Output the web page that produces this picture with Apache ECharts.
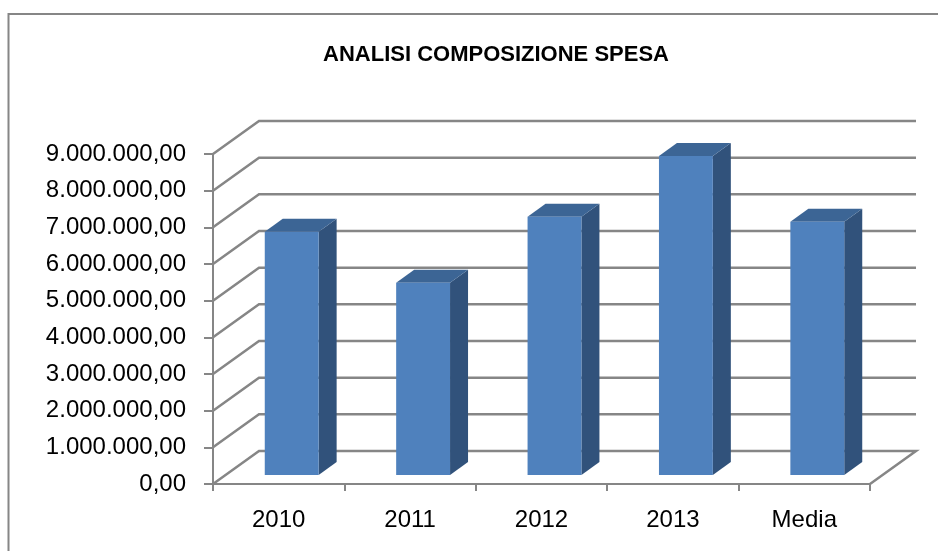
<!DOCTYPE html>
<html>
<head>
<meta charset="utf-8">
<script src="https://cdn.jsdelivr.net/npm/echarts@6/dist/echarts.min.js"></script>
<style>
html,body{margin:0;padding:0;background:#fff;}
#chart{width:938px;height:551px;}
</style>
</head>
<body>
<div id="chart"></div>
<script>
const titleText = 'ANALISI COMPOSIZIONE SPESA';
const categories = ['2010', '2011', '2012', '2013', 'Media'];
const values = [6635000, 5245000, 7044000, 8700000, 6906000];
const yTicks = [0, 1000000, 2000000, 3000000, 4000000, 5000000, 6000000, 7000000, 8000000, 9000000];

const GRAY = '#868686';
const FONT = '"Liberation Sans", Arial, sans-serif';
const WALL_DX = 46, WALL_DY = -33;
const BAR_OFF_DX = 13, BAR_OFF_DY = -9;
const BAR_DX = 18, BAR_DY = -13;
const BAR_RATIO = 0.41;

function fmtIt(v) {
  const s = Math.round(v).toString().replace(/\B(?=(\d{3})+(?!\d))/g, '.');
  return s + ',00';
}

const chart = echarts.init(document.getElementById('chart'), null, {renderer: 'canvas'});
chart.setOption({
  animation: false,
  backgroundColor: '#fff',
  graphic: [
    {type: 'rect', shape: {x: 8.5, y: 14, width: 960, height: 560},
     style: {fill: 'none', stroke: GRAY, lineWidth: 2}, z: 0},
    {type: 'text', style: {x: 496, y: 55, text: titleText, textAlign: 'center', textVerticalAlign: 'middle',
      font: 'bold 22px ' + FONT, fill: '#000'}, z: 10}
  ],
  grid: {left: 213, right: 68, top: 154, bottom: 67, containLabel: false},
  xAxis: {
    type: 'category', data: categories, boundaryGap: true,
    axisLine: {show: true, lineStyle: {color: GRAY, width: 2}},
    axisTick: {show: true, length: 7, lineStyle: {color: GRAY, width: 2}},
    axisLabel: {color: '#000', fontSize: 24, fontFamily: FONT, margin: 24},
    splitLine: {show: false}
  },
  yAxis: {
    type: 'value', min: 0, max: 9000000, interval: 1000000,
    axisLine: {show: true, lineStyle: {color: GRAY, width: 2}},
    axisTick: {show: true, length: 9, lineStyle: {color: GRAY, width: 2}},
    axisLabel: {color: '#000', fontSize: 24, fontFamily: FONT, margin: 27, padding: [4, 0, 0, 0], formatter: fmtIt},
    splitLine: {show: false}
  },
  series: [
    {
      type: 'custom', name: 'walls', z: 1, clip: false, silent: true,
      data: yTicks.map(v => [0, v]),
      encode: {x: 0, y: 1},
      renderItem: function (params, api) {
        const v = api.value(1);
        const y = api.coord([0, v])[1];
        const cs = params.coordSys;
        const x0 = cs.x, x1 = cs.x + cs.width;
        const pts = [[x0, y], [x0 + WALL_DX, y + WALL_DY], [x1 + WALL_DX, y + WALL_DY]];
        if (v === 0) pts.push([x1, y]);
        return {type: 'polyline', shape: {points: pts},
          style: {stroke: GRAY, lineWidth: 2.5, fill: null}};
      }
    },
    {
      type: 'custom', name: 'Spesa', z: 2, clip: false,
      data: values.map((v, i) => [i, v]),
      encode: {x: 0, y: 1},
      renderItem: function (params, api) {
        const idx = api.value(0), v = api.value(1);
        const base = api.coord([idx, 0]);
        const top = api.coord([idx, v]);
        const bw = api.size([1, 0])[0] * BAR_RATIO;
        const x = base[0] - bw / 2 + BAR_OFF_DX;
        const yb = base[1] + BAR_OFF_DY;
        const yt = top[1] + BAR_OFF_DY;
        return {type: 'group', children: [
          {type: 'polygon', shape: {points: [[x + bw, yt], [x + bw + BAR_DX, yt + BAR_DY], [x + bw + BAR_DX, yb + BAR_DY], [x + bw, yb]]},
           style: {fill: '#31527B'}},
          {type: 'polygon', shape: {points: [[x, yt], [x + BAR_DX, yt + BAR_DY], [x + bw + BAR_DX, yt + BAR_DY], [x + bw, yt]]},
           style: {fill: '#3C6595'}},
          {type: 'rect', shape: {x: x, y: yt, width: bw, height: yb - yt},
           style: {fill: '#4F81BD'}}
        ]};
      }
    }
  ]
});
</script>
</body>
</html>
